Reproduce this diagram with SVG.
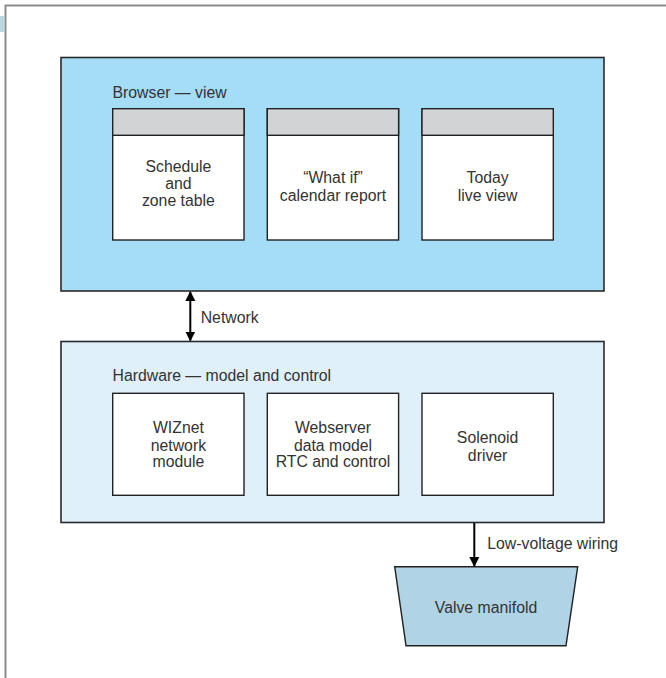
<svg xmlns="http://www.w3.org/2000/svg" width="666" height="678" viewBox="0 0 666 678">
  <style>
    text { font-family: "Liberation Sans", Arial, sans-serif; font-size: 15.8px; fill: #333; }
    .mid { text-anchor: middle; }
    .box { fill: #fff; stroke: #222; stroke-width: 1.4; }
    .hdr { fill: #d2d3d5; stroke: #222; stroke-width: 1.4; }
    .outer { stroke: #2a2a2a; stroke-width: 1.6; }
    .wire { stroke: #000; stroke-width: 2; fill: none; }
  </style>
  <defs>
    <marker id="arrow" viewBox="0 0 10 10" refX="9" refY="5" markerWidth="5" markerHeight="5.5" orient="auto-start-reverse">
      <path d="M0,0 L10,5 L0,10 Z" fill="#000"/>
    </marker>
  </defs>

  <!-- page frame -->
  <rect width="666" height="678" fill="#fff"/>
  <rect x="0" y="16" width="4" height="16" fill="#bad6e4"/>
  <path d="M5.5,678 V5.5 H666" fill="none" stroke="#8c8c8c" stroke-width="2"/>

  <!-- browser layer -->
  <g id="browser">
    <rect class="outer" x="61" y="57.5" width="543" height="233.5" fill="#a5ddf7"/>
    <text x="112.5" y="97.5">Browser — view</text>
  </g>
  <g id="schedule">
    <rect class="box" x="112.7" y="108.7" width="131.3" height="131.3"/>
    <rect class="hdr" x="112.7" y="108.7" width="131.3" height="26.6"/>
    <text class="mid" x="178.4" y="171.5">Schedule</text>
    <text class="mid" x="178.4" y="189">and</text>
    <text class="mid" x="178.4" y="206.3">zone table</text>
  </g>
  <g id="whatif">
    <rect class="box" x="267.3" y="108.7" width="131.3" height="131.3"/>
    <rect class="hdr" x="267.3" y="108.7" width="131.3" height="26.6"/>
    <text class="mid" x="333" y="183.3">“What if”</text>
    <text class="mid" x="333" y="200.5">calendar report</text>
  </g>
  <g id="today">
    <rect class="box" x="422" y="108.7" width="131.3" height="131.3"/>
    <rect class="hdr" x="422" y="108.7" width="131.3" height="26.6"/>
    <text class="mid" x="487.6" y="183.3">Today</text>
    <text class="mid" x="487.6" y="200.5">live view</text>
  </g>

  <!-- hardware layer -->
  <g id="hardware">
    <rect class="outer" x="61" y="341.5" width="543" height="181" fill="#dff0fa"/>
    <text x="112.5" y="380.7">Hardware — model and control</text>
  </g>
  <g id="wiznet">
    <rect class="box" x="112.7" y="393.3" width="131.3" height="102"/>
    <text class="mid" x="178.4" y="433.3">WIZnet</text>
    <text class="mid" x="178.4" y="450.7">network</text>
    <text class="mid" x="178.4" y="467.3">module</text>
  </g>
  <g id="webserver">
    <rect class="box" x="267.3" y="393.3" width="131.3" height="102"/>
    <text class="mid" x="333" y="433.3">Webserver</text>
    <text class="mid" x="333" y="450.7">data model</text>
    <text class="mid" x="333" y="467.3">RTC and control</text>
  </g>
  <g id="solenoid">
    <rect class="box" x="422" y="393.3" width="131.3" height="102"/>
    <text class="mid" x="487.6" y="443.3">Solenoid</text>
    <text class="mid" x="487.6" y="460.7">driver</text>
  </g>

  <!-- valve manifold -->
  <g id="manifold">
    <path d="M394.7,566.7 H577.7 L566,645.7 H406 Z" fill="#b0d3e5" stroke="#222" stroke-width="1.4"/>
    <text class="mid" x="486" y="612.7">Valve manifold</text>
  </g>

  <!-- connectors -->
  <g id="connectors">
    <line class="wire" x1="190.3" y1="292" x2="190.3" y2="340.5" marker-start="url(#arrow)" marker-end="url(#arrow)"/>
    <text x="200.7" y="322.7">Network</text>
    <line class="wire" x1="474.3" y1="523" x2="474.3" y2="566" marker-end="url(#arrow)"/>
    <text x="487.3" y="549.3">Low-voltage wiring</text>
  </g>
</svg>
